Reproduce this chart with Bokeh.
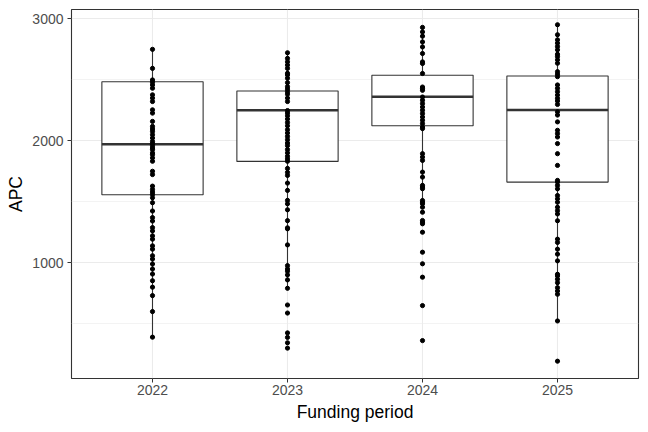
from bokeh.plotting import figure
from bokeh.models import ColumnDataSource, Range1d, FixedTicker
from bokeh.embed import file_html
from bokeh.resources import INLINE

periods = ["2022", "2023", "2024", "2025"]

apc_2022 = [2749, 2593, 2498, 2479, 2457, 2430, 2376, 2349, 2321, 2253, 2226, 2158,
            2117, 2096, 2076, 2049, 2022, 1994, 1976, 1959, 1940, 1927, 1900, 1886,
            1859, 1831, 1749, 1722, 1627, 1600, 1578, 1559, 1532, 1491, 1423, 1369,
            1341, 1287, 1260, 1219, 1192, 1137, 1110, 1056, 1029, 988, 947, 906,
            851, 798, 729, 598, 388]
apc_2023 = [2721, 2675, 2647, 2620, 2593, 2553, 2539, 2512, 2476, 2443, 2422, 2402,
            2381, 2349, 2321, 2247, 2226, 2204, 2177, 2149, 2122, 2090, 2063, 2035,
            2008, 1981, 1959, 1927, 1900, 1872, 1851, 1831, 1772, 1740, 1715, 1652,
            1592, 1510, 1482, 1433, 1344, 1285, 1277, 1145, 975, 948, 929, 899,
            858, 789, 652, 586, 423, 386, 342, 298]
apc_2024 = [2929, 2892, 2857, 2810, 2769, 2715, 2646, 2633, 2551, 2440, 2427, 2413,
            2358, 2331, 2304, 2276, 2249, 2222, 2194, 2167, 2140, 2112, 2099, 1893,
            1865, 1838, 1742, 1701, 1633, 1619, 1606, 1509, 1495, 1482, 1454, 1413,
            1345, 1331, 1318, 1249, 1085, 990, 880, 647, 360]
apc_2025 = [2951, 2869, 2827, 2800, 2772, 2745, 2709, 2690, 2663, 2635, 2566, 2545,
            2525, 2457, 2429, 2402, 2374, 2347, 2325, 2297, 2237, 2210, 2154, 2085,
            2058, 2030, 1976, 1893, 1797, 1674, 1660, 1633, 1605, 1550, 1523, 1495,
            1454, 1426, 1399, 1343, 1192, 1165, 1110, 1069, 1014, 904, 890, 863,
            835, 794, 767, 740, 521, 191]

# box summaries
q1 = [1556, 1830, 2122, 1660]
med = [1970, 2249, 2360, 2251]
q3 = [2483, 2408, 2537, 2531]
wlo = [388, 789, 1509, 521]
whi = [2749, 2721, 2929, 2951]

pos = [1, 2, 3, 4]
half = 0.375

p = figure(width=640, height=424, output_backend="svg", toolbar_location=None,
           x_range=Range1d(0.4, 4.6), y_range=Range1d(49, 3076),
           min_border_left=71, min_border_right=2, min_border_top=9, min_border_bottom=46)

p.background_fill_color = "white"
p.border_fill_color = "white"
p.outline_line_color = "#333333"
p.outline_line_width = 1.1

p.xaxis.ticker = FixedTicker(ticks=pos)
p.xaxis.major_label_overrides = {k: v for k, v in zip(pos, periods)}
p.yaxis.ticker = FixedTicker(ticks=[1000, 2000, 3000], minor_ticks=[500, 1500, 2500])

for ax in (p.xaxis, p.yaxis):
    ax.axis_line_color = None
    ax.major_tick_line_color = "#333333"
    ax.major_tick_out = 4
    ax.major_tick_in = 0
    ax.minor_tick_line_color = None
    ax.major_label_text_color = "#4D4D4D"
    ax.major_label_text_font = "Liberation Sans"
    ax.major_label_text_font_size = "14px"
    ax.axis_label_text_font = "Liberation Sans"
    ax.axis_label_text_font_size = "17.5px"
    ax.axis_label_text_font_style = "normal"
    ax.axis_label_text_color = "black"

p.xaxis.axis_label = "Funding period"
p.yaxis.axis_label = "APC"
p.xaxis.major_label_standoff = 2
p.yaxis.major_label_standoff = 4
p.xaxis.axis_label_standoff = 4
p.yaxis.axis_label_standoff = 3

p.xgrid.grid_line_color = "#EBEBEB"
p.xgrid.grid_line_width = 1.1
p.ygrid.grid_line_color = "#EBEBEB"
p.ygrid.grid_line_width = 1.1
p.ygrid.minor_grid_line_color = "#EBEBEB"
p.ygrid.minor_grid_line_width = 0.6

boxes = ColumnDataSource(dict(
    x=pos, left=[x - half for x in pos], right=[x + half for x in pos],
    q1=q1, med=med, q3=q3, lo=wlo, hi=whi))

p.segment(x0="x", y0="lo", x1="x", y1="q1", source=boxes, line_color="#333333", line_width=1.1)
p.segment(x0="x", y0="q3", x1="x", y1="hi", source=boxes, line_color="#333333", line_width=1.1)
p.quad(left="left", right="right", bottom="q1", top="q3", source=boxes,
       fill_color="white", line_color="#333333", line_width=1.1)
p.segment(x0="left", y0="med", x1="right", y1="med", source=boxes,
          line_color="#333333", line_width=2.4)

xs, ys = [], []
for x, vals in zip(pos, [apc_2022, apc_2023, apc_2024, apc_2025]):
    xs += [x] * len(vals)
    ys += vals
pts = ColumnDataSource(dict(x=xs, y=ys))
p.scatter(x="x", y="y", source=pts, size=4.2, color="black")

open("out.html", "w").write(file_html(p, INLINE))
